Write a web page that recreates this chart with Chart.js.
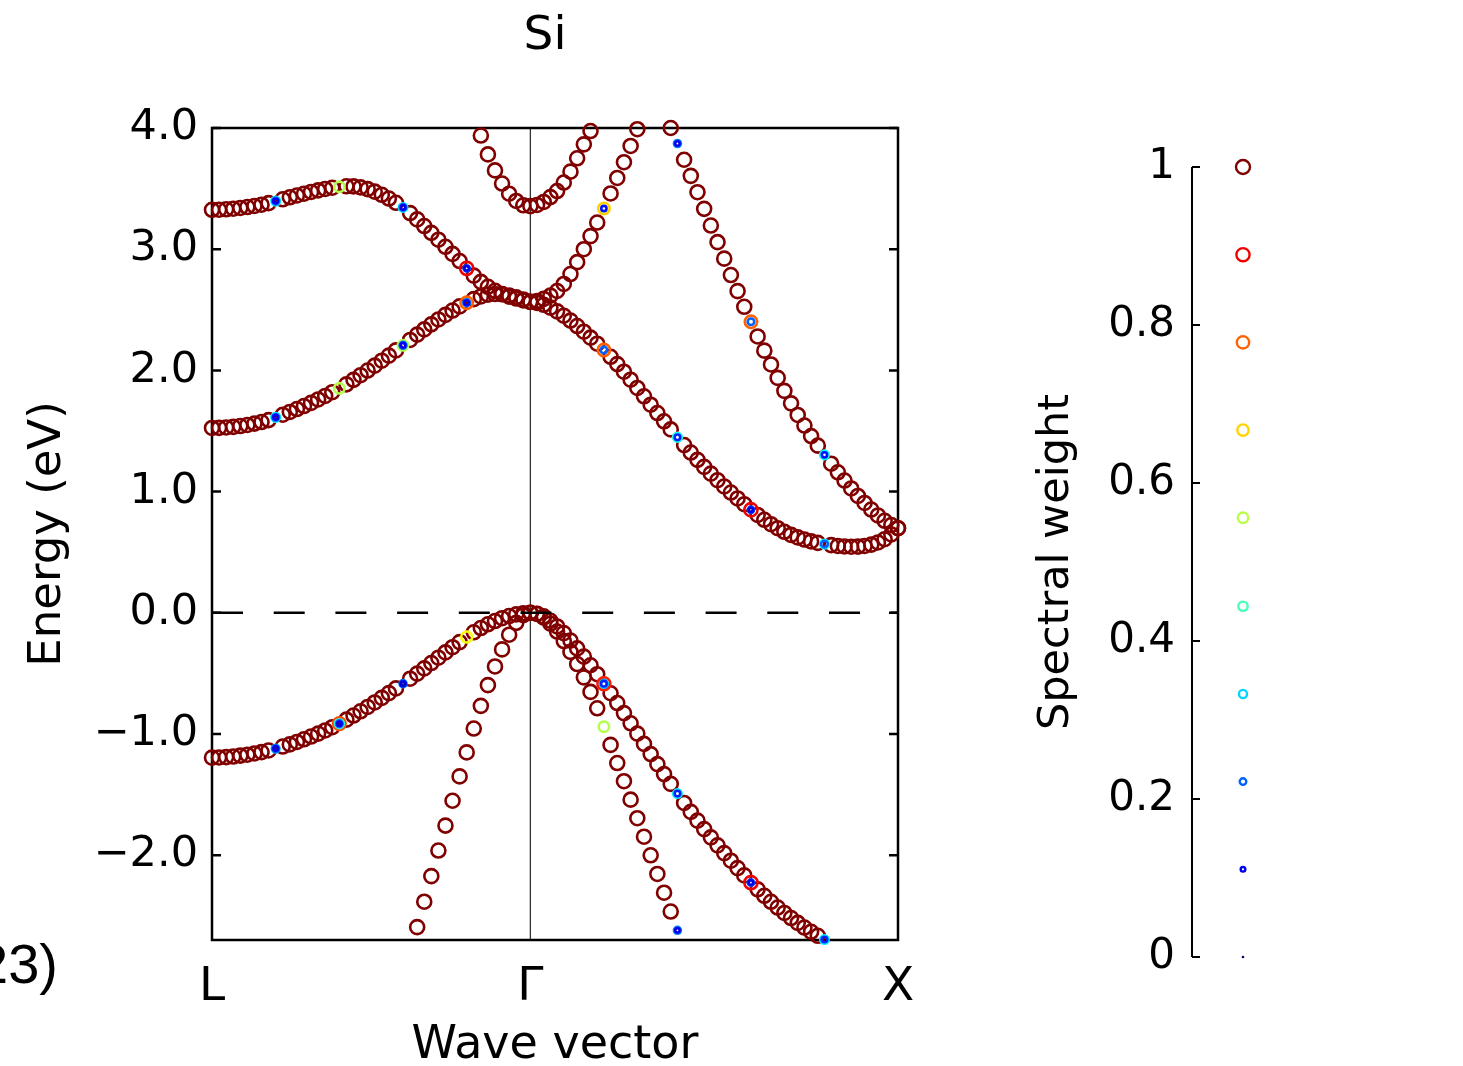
<!DOCTYPE html>
<html>
<head>
<meta charset="utf-8">
<script src="https://cdn.jsdelivr.net/npm/chart.js@4.4.1/dist/chart.umd.min.js"></script>
<style>
  body { margin: 0; background: #fff; width: 1463px; height: 1066px; overflow: hidden; position: relative; font-family: "DejaVu Sans", sans-serif; }
  #main { position: absolute; left: 0; top: 0; }
  #key { position: absolute; left: 1000px; top: 0; }
  #fig { position: absolute; right: 1405px; top: 936px; font-family: "Liberation Sans", sans-serif; font-size: 56px; line-height: 56px; white-space: nowrap; color: #000; }
</style>
</head>
<body>
<canvas id="main" width="1090" height="1066"></canvas>
<canvas id="key" width="463" height="1066"></canvas>
<div id="fig">(23)</div>
<script>
const FONT = '"DejaVu Sans", sans-serif';

const chartTitle = 'Si';

// k path L -> Gamma -> X, 45 + 55 steps
const kLabels = ['L', 'Γ', 'X'];
const kTicks = [0, 0.866, 1.866];
const stepsLG = 45;
const stepsGX = 55;

const energyTicks = [-2, -1, 0, 1, 2, 3, 4];
const fermiLevel = 0;

// energies (eV), one per k point (101), null = not shown
const hh = [
  -1.195, -1.194, -1.191, -1.186, -1.179, -1.171, -1.161, -1.150, -1.136, -1.120,
  -1.104, -1.086, -1.066, -1.044, -1.021, -0.997, -0.971, -0.944, -0.915,
  -0.882, -0.848, -0.813, -0.777, -0.740, -0.702, -0.663, -0.624, -0.585,
  -0.544, -0.502, -0.459, -0.415, -0.371, -0.327, -0.284, -0.242, -0.200,
  -0.161, -0.126, -0.095, -0.068, -0.045, -0.027, -0.013, -0.004, 0.000,
  -0.008, -0.030, -0.066, -0.113, -0.168, -0.229, -0.294, -0.362, -0.433, -0.507, -0.585,
  -0.664, -0.745, -0.828, -0.912, -0.997, -1.082, -1.166, -1.249, -1.331, -1.412, -1.492,
  -1.569, -1.643, -1.715, -1.785, -1.853, -1.919, -1.983, -2.046, -2.107, -2.167, -2.226,
  -2.282, -2.335, -2.385, -2.432, -2.477, -2.519, -2.559, -2.597, -2.632, -2.665, -2.696
].concat(Array(11).fill(null));

const lh = Array(29).fill(null).concat([
  -2.594, -2.384, -2.173, -1.962, -1.756, -1.551, -1.350, -1.152, -0.955,
  -0.768, -0.597, -0.443, -0.302, -0.181, -0.083, -0.020, 0.000,
  -0.010, -0.040, -0.090, -0.155, -0.233, -0.323, -0.423, -0.533, -0.653, -0.788, -0.940,
  -1.090, -1.240, -1.390, -1.542, -1.695, -1.848, -2.001, -2.155, -2.310, -2.465, -2.620
]).concat(Array(33).fill(null));

const cb1 = [
  1.525, 1.526, 1.529, 1.534, 1.541, 1.550, 1.561, 1.574, 1.590, 1.613,
  1.634, 1.657, 1.681, 1.706, 1.732, 1.760, 1.789, 1.820, 1.852,
  1.885, 1.922, 1.960, 1.999, 2.039, 2.080, 2.122, 2.165, 2.207,
  2.251, 2.295, 2.338, 2.380, 2.420, 2.458, 2.494, 2.528, 2.558,
  2.588, 2.610, 2.625, 2.630, 2.628, 2.618, 2.603, 2.585, 2.565,
  2.557, 2.541, 2.518, 2.487, 2.451, 2.411, 2.366, 2.319, 2.270, 2.220, 2.168,
  2.112, 2.052, 1.989, 1.923, 1.855, 1.786, 1.717, 1.648, 1.580, 1.513, 1.448,
  1.384, 1.322, 1.262, 1.204, 1.148, 1.094, 1.042, 0.992, 0.943, 0.896, 0.850,
  0.807, 0.767, 0.731, 0.698, 0.668, 0.643, 0.622, 0.604, 0.589, 0.577, 0.567,
  0.558, 0.551, 0.547, 0.545, 0.546, 0.551, 0.562, 0.580, 0.607, 0.646, 0.698
];

const cb2 = [
  3.325, 3.326, 3.329, 3.334, 3.340, 3.348, 3.357, 3.367, 3.380, 3.397,
  3.412, 3.428, 3.443, 3.458, 3.472, 3.485, 3.497, 3.507, 3.515,
  3.519, 3.518, 3.510, 3.496, 3.475, 3.449, 3.418, 3.383, 3.345,
  3.298, 3.246, 3.191, 3.135, 3.078, 3.020, 2.961, 2.902, 2.842,
  2.782, 2.730, 2.690, 2.657, 2.630, 2.609, 2.593, 2.578, 2.565,
  2.572, 2.590, 2.617, 2.655, 2.713, 2.795, 2.893, 3.000, 3.108, 3.220, 3.336,
  3.460, 3.588, 3.718, 3.852, 3.990
].concat(Array(39).fill(null));

const cb3 = Array(38).fill(null).concat([
  3.938, 3.782, 3.650, 3.542, 3.458, 3.398, 3.362, 3.355,
  3.365, 3.390, 3.430, 3.480, 3.550, 3.640, 3.750, 3.865, 3.975
]).concat(Array(46).fill(null));

const cb4 = Array(66).fill(null).concat([
  4.000, 3.872, 3.738, 3.605, 3.470, 3.333, 3.195, 3.058, 2.922, 2.787, 2.654, 2.525, 2.401,
  2.280, 2.163, 2.049, 1.938, 1.831, 1.728, 1.632, 1.545, 1.458, 1.379, 1.303,
  1.230, 1.159, 1.091, 1.026, 0.964, 0.906, 0.852, 0.803, 0.759, 0.724, 0.698
]);

const bands = [hh, lh, cb1, cb2, cb3, cb4];

// k points with reduced spectral weight: [band, k index, weights]
const marks = [
  [cb2, 9, [0.38, 0.25, 0.12]], [cb1, 9, [0.38, 0.25, 0.12]], [hh, 9, [0.3, 0.2, 0.1]],
  [cb2, 18, [0.55]], [cb1, 18, [0.55]], [hh, 18, [0.8, 0.4, 0.22, 0.1]],
  [cb2, 27, [0.36, 0.22, 0.1]], [cb1, 27, [0.55, 0.24, 0.12]], [hh, 27, [0.25, 0.15, 0.08]],
  [cb2, 36, [0.89, 0.2, 0.1]], [cb1, 36, [0.78, 0.24, 0.12]], [hh, 36, [0.62]],
  [cb2, 56, [0.67, 0.14]], [cb1, 56, [0.78, 0.22]], [hh, 56, [0.85, 0.32, 0.16]], [lh, 56, [0.55]],
  [cb4, 67, [0.25, 0.1]], [cb1, 67, [0.4, 0.16]], [hh, 67, [0.36, 0.16]], [lh, 67, [0.25, 0.1]],
  [cb4, 78, [0.78, 0.22]], [cb1, 78, [0.89, 0.2, 0.1]], [hh, 78, [0.89, 0.2, 0.1]],
  [cb4, 89, [0.38, 0.14]], [cb1, 89, [0.38, 0.22]], [hh, 89, [0.36, 0.16]]
];

const weightTicks = [0, 0.2, 0.4, 0.6, 0.8, 1];
const weightLevels = [0, 0.111, 0.222, 0.333, 0.444, 0.556, 0.667, 0.778, 0.889, 1];

function kOf(n) {
  if (n <= stepsLG) return kTicks[1] * n / stepsLG;
  return kTicks[1] + (kTicks[2] - kTicks[1]) * (n - stepsLG) / stepsGX;
}

function jet(w) {
  const c = v => Math.round(255 * Math.max(0, Math.min(1, v)));
  const r = Math.min(4 * w - 1.5, -4 * w + 4.5);
  const g = Math.min(4 * w - 0.5, -4 * w + 3.5);
  const b = Math.min(4 * w + 0.5, -4 * w + 2.5);
  return `rgb(${c(r)},${c(g)},${c(b)})`;
}

function rad(w) {
  return Math.max(0.6, 7.0 * Math.sqrt(w));
}

const isMarked = (arr, n) => marks.some(m => m[0] === arr && m[1] === n);

Chart.defaults.font.family = FONT;
Chart.defaults.color = '#000';

const bandSets = bands.map(arr => ({
  data: arr.map((e, n) => (e === null || isMarked(arr, n)) ? null : { x: kOf(n), y: e }).filter(p => p),
  pointRadius: rad(1),
  pointBorderWidth: 2.6,
  pointBorderColor: jet(1),
  pointBackgroundColor: 'rgba(0,0,0,0)',
  clip: false,
  order: 2
}));

const markPoints = marks
  .flatMap(([arr, n, ws]) => ws.map(w => ({ x: kOf(n), y: arr[n], w })))
  .sort((a, b) => b.w - a.w);

const frame = {
  id: 'frame',
  beforeDatasetsDraw(chart) {
    const { ctx, chartArea: a, scales: { x, y } } = chart;
    ctx.save();
    const gx = x.getPixelForValue(kTicks[1]);
    ctx.strokeStyle = '#333';
    ctx.lineWidth = 1.3;
    ctx.beginPath();
    ctx.moveTo(gx, a.top);
    ctx.lineTo(gx, a.bottom);
    ctx.stroke();
    ctx.strokeStyle = '#000';
    ctx.lineWidth = 2.5;
    ctx.strokeRect(a.left, a.top, a.width, a.height);
    ctx.beginPath();
    y.ticks.forEach(t => {
      const py = y.getPixelForValue(t.value);
      ctx.moveTo(a.left, py); ctx.lineTo(a.left + 9, py);
      ctx.moveTo(a.right, py); ctx.lineTo(a.right - 9, py);
    });
    ctx.stroke();
    // title, centred on the canvas
    ctx.fillStyle = '#000';
    ctx.font = '47px ' + FONT;
    ctx.textAlign = 'center';
    ctx.textBaseline = 'middle';
    ctx.fillText(chartTitle, chart.width / 2, 37);
    ctx.restore();
  }
};

new Chart(document.getElementById('main'), {
  type: 'scatter',
  data: {
    datasets: [
      {
        data: markPoints,
        pointRadius: c => rad(c.raw.w),
        pointBorderWidth: 2.6,
        pointBorderColor: c => jet(c.raw.w),
        pointBackgroundColor: 'rgba(0,0,0,0)',
        clip: false,
        order: 0
      },
      {
        data: [{ x: kTicks[0], y: fermiLevel }, { x: kTicks[2], y: fermiLevel }],
        showLine: true,
        borderColor: '#000',
        borderWidth: 2.5,
        borderDash: [31, 30.7],
        pointRadius: 0,
        order: 1
      },
      ...bandSets
    ]
  },
  options: {
    responsive: false,
    animation: false,
    events: [],
    layout: { padding: { left: 0, top: 128, right: 192, bottom: 0 } },
    plugins: {
      legend: { display: false },
      tooltip: { enabled: false },
      title: { display: false }
    },
    scales: {
      x: {
        type: 'linear',
        min: kTicks[0],
        max: kTicks[2],
        afterBuildTicks: s => { s.ticks = kTicks.map(v => ({ value: v })); },
        afterFit: s => { s.height = 126; s.paddingLeft = 0; s.paddingRight = 0; },
        ticks: {
          callback: (v, i) => kLabels[i],
          font: { size: 47 },
          padding: 20,
          autoSkip: false,
          maxRotation: 0,
          minRotation: 0
        },
        grid: { display: false, drawTicks: false },
        border: { display: false },
        title: { display: true, text: 'Wave vector', font: { size: 46, lineHeight: 0.85 }, padding: 0 }
      },
      y: {
        min: -2.7,
        max: 4,
        afterBuildTicks: s => { s.ticks = energyTicks.map(v => ({ value: v })); },
        afterFit: s => { s.width = 212; s.paddingTop = 0; s.paddingBottom = 0; },
        ticks: {
          callback: v => (v < 0 ? '\u2212' : '') + Math.abs(v).toFixed(1),
          font: { size: 43 },
          padding: 14
        },
        grid: { display: false, drawTicks: false },
        border: { display: false },
        title: { display: true, text: 'Energy (eV)', font: { size: 45, lineHeight: 1 }, padding: { top: 26, bottom: 0 } }
      }
    }
  },
  plugins: [frame]
});

const keyAxis = {
  id: 'keyAxis',
  beforeDatasetsDraw(chart) {
    const { ctx, chartArea: a, scales: { y } } = chart;
    ctx.save();
    ctx.strokeStyle = '#000';
    ctx.lineWidth = 2;
    ctx.beginPath();
    ctx.moveTo(a.left, a.top);
    ctx.lineTo(a.left, a.bottom);
    y.ticks.forEach(t => {
      const py = y.getPixelForValue(t.value);
      ctx.moveTo(a.left, py); ctx.lineTo(a.left + 8, py);
    });
    ctx.stroke();
    ctx.restore();
  }
};

new Chart(document.getElementById('key'), {
  type: 'scatter',
  data: {
    datasets: [{
      data: weightLevels.map(w => ({ x: 0.5, y: w, w })),
      pointRadius: c => rad(c.raw.w),
      pointBorderWidth: c => c.raw.w === 0 ? 1.5 : 2.4,
      pointBorderColor: c => jet(c.raw.w),
      pointBackgroundColor: 'rgba(0,0,0,0)',
      clip: false
    }]
  },
  options: {
    responsive: false,
    animation: false,
    events: [],
    layout: { padding: { left: 0, top: 167, right: 169, bottom: 109 } },
    plugins: { legend: { display: false }, tooltip: { enabled: false } },
    scales: {
      x: { display: false, min: 0, max: 1 },
      y: {
        min: 0,
        max: 1,
        afterBuildTicks: s => { s.ticks = weightTicks.map(v => ({ value: v })); },
        afterFit: s => { s.width = 192; s.paddingTop = 0; s.paddingBottom = 0; },
        ticks: { callback: v => String(v), font: { size: 42 }, padding: 17 },
        grid: { display: false, drawTicks: false },
        border: { display: false },
        title: { display: true, text: 'Spectral weight', font: { size: 43, lineHeight: 1 }, padding: { top: 35, bottom: 0 } }
      }
    }
  },
  plugins: [keyAxis]
});
</script>
</body>
</html>
